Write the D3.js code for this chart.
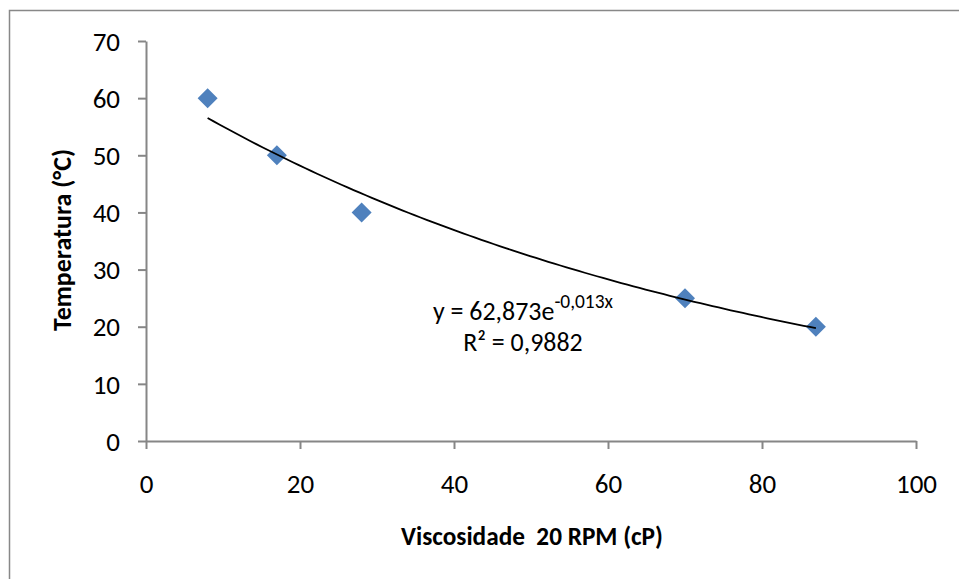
<!DOCTYPE html>
<html>
<head>
<meta charset="utf-8">
<script src="https://cdn.jsdelivr.net/npm/d3@7"></script>
<style>
  body { margin: 0; background: #fff; }
  text { font-family: Carlito, Calibri, Lato, "Open Sans", sans-serif; fill: #000; }
  .tick text { font-size: 27px; }
  .axisTitle { font-size: 25px; font-weight: bold; }
  .eq { font-size: 25px; }
</style>
</head>
<body>
<div id="chart"></div>
<script>
var svgWidth = 959;
var svgHeight = 579;

var margin = { top: 41, right: 43, bottom: 138, left: 146 };
var width = svgWidth - margin.left - margin.right;
var height = svgHeight - margin.top - margin.bottom;

// data
var viscosity = [8, 17, 28, 70, 87];
var temperature = [60, 50, 40, 25, 20];
var xTicks = [0, 20, 40, 60, 80, 100];
var yTicks = [0, 10, 20, 30, 40, 50, 60, 70];
var eqLabel = "y = 62,873e";
var eqExp = "-0,013x";
var r2Label = "R² = 0,9882";

var points = viscosity.map(function(v, i) { return { x: v, y: temperature[i] }; });

// exponential trendline: least squares on ln(y)
var mx = d3.mean(points, d => d.x);
var my = d3.mean(points, d => Math.log(d.y));
var sxy = d3.sum(points, d => (d.x - mx) * (Math.log(d.y) - my));
var sxx = d3.sum(points, d => (d.x - mx) * (d.x - mx));
var b = sxy / sxx;
var a = Math.exp(my - b * mx);
var xMin = d3.min(viscosity), xMax = d3.max(viscosity);
var trend = d3.range(0, 101).map(function(i) {
  var x = xMin + (xMax - xMin) * i / 100;
  return { x: x, y: a * Math.exp(b * x) };
});

// shrink/grow a text so it spans the width seen in the picture
function fitWidth(sel, target) {
  var fs = parseFloat(getComputedStyle(sel.node()).fontSize);
  var w = sel.node().getComputedTextLength();
  sel.style("font-size", (fs * target / w) + "px");
  return fs * target / w;
}

var svg = d3.select("#chart").append("svg")
  .attr("width", svgWidth)
  .attr("height", svgHeight);

svg.append("rect")
  .attr("x", 9.5).attr("y", 10.5)
  .attr("width", 1000).attr("height", 1000)
  .attr("fill", "none")
  .attr("stroke", "#888")
  .attr("stroke-width", 1.5);

var chartGroup = svg.append("g")
  .attr("transform", `translate(${margin.left}, ${margin.top})`);

var xScale = d3.scaleLinear().domain([0, 100]).range([0, width]);
var yScale = d3.scaleLinear().domain([0, 70]).range([height, 0]);

var xAxis = chartGroup.append("g")
  .attr("transform", `translate(0, ${height})`)
  .call(d3.axisBottom(xScale).tickValues(xTicks).tickSize(8).tickPadding(25).tickSizeOuter(0));

var yAxis = chartGroup.append("g")
  .call(d3.axisLeft(yScale).tickValues(yTicks).tickSize(8).tickPadding(18).tickSizeOuter(0));

chartGroup.selectAll(".domain, .tick line")
  .attr("stroke", "#868686")
  .attr("stroke-width", 2);
chartGroup.selectAll(".tick text").attr("fill", "#000");
yAxis.selectAll(".tick text").attr("dy", "0.34em");

chartGroup.selectAll("path.marker")
  .data(points)
  .enter()
  .append("path")
  .attr("class", "marker")
  .attr("d", d3.symbol().type(d3.symbolSquare).size(200))
  .attr("transform", d => `translate(${xScale(d.x)}, ${yScale(d.y)}) rotate(45)`)
  .attr("fill", "#4F81BD");

var line = d3.line()
  .x(d => xScale(d.x))
  .y(d => yScale(d.y));

chartGroup.append("path")
  .datum(trend)
  .attr("d", line)
  .attr("fill", "none")
  .attr("stroke", "#000")
  .attr("stroke-width", 1.8);

// trendline label
var eq = svg.append("text")
  .attr("class", "eq")
  .attr("x", 523)
  .attr("y", 320)
  .attr("text-anchor", "middle");
eq.append("tspan").text(eqLabel);
eq.append("tspan").attr("dy", -12).style("font-size", "0.75em").text(eqExp);
var eqSize = fitWidth(eq, 180);

svg.append("text")
  .attr("class", "eq")
  .attr("x", 523)
  .attr("y", 351)
  .attr("text-anchor", "middle")
  .style("font-size", eqSize + "px")
  .text(r2Label);

// axis titles
var xTitle = svg.append("text")
  .attr("class", "axisTitle")
  .attr("x", 532)
  .attr("y", 545)
  .attr("text-anchor", "middle")
  .attr("xml:space", "preserve")
  .text("Viscosidade  20 RPM (cP)");
fitWidth(xTitle, 262);

var yTitle = svg.append("text")
  .attr("class", "axisTitle")
  .attr("transform", "translate(71, 240) rotate(-90)")
  .attr("text-anchor", "middle")
  .text("Temperatura (°C)");
fitWidth(yTitle, 182);
</script>
</body>
</html>
